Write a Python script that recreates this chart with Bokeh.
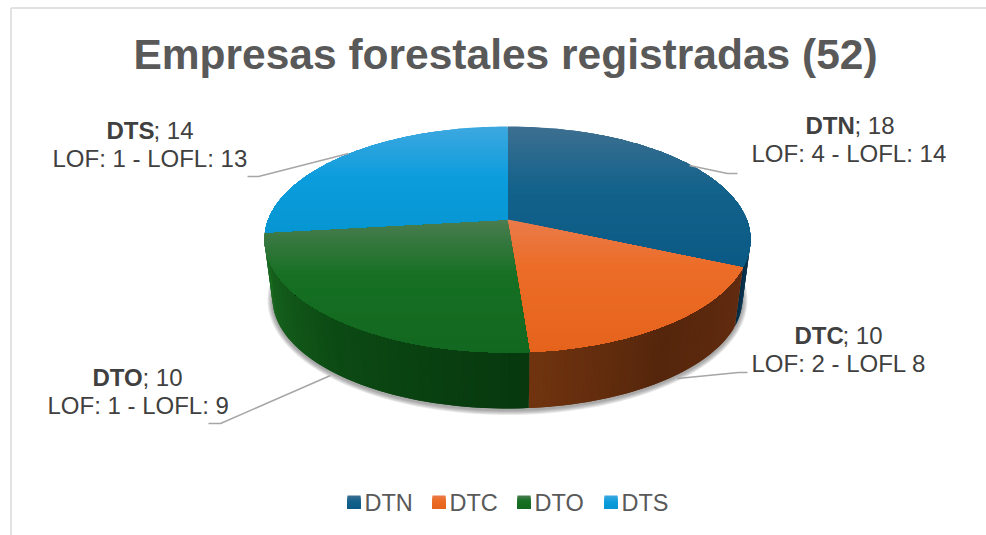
import numpy as np
from bokeh.plotting import figure
from bokeh.models import Range1d
from bokeh.core.properties import value
from bokeh.embed import file_html
from bokeh.resources import INLINE

# ---- data -----------------------------------------------------------------
categories = ["DTN", "DTC", "DTO", "DTS"]
label_totals = [18, 10, 10, 14]
label_details = ["LOF: 4 - LOFL: 14", "LOF: 2 - LOFL 8", "LOF: 1 - LOFL: 9", "LOF: 1 - LOFL: 13"]
# slice sizes as drawn in the picture (degrees of the pie's rim)
drawn_degrees = [104.4, 70.4, 98.7, 86.5]
title = "Empresas forestales registradas (52)"

# ---- styles ---------------------------------------------------------------
FONT = value("Liberation Sans")
face_stops = {
    "DTN": [(0, "#3d6f90"), (.45, "#13628b"), (1, "#0a5a85")],
    "DTC": [(0, "#ea7b4b"), (.35, "#ec6d28"), (1, "#e5631c")],
    "DTO": [(0, "#4b7d51"), (.42, "#167023"), (1, "#136820")],
    "DTS": [(0, "#3ea8e0"), (.5, "#0a9cdc"), (1, "#0796d2")],
}
wall_stops = {
    "DTN": [(0, "#0b3c5c"), (1, "#052a42")],
    "DTC": [(0, "#622c10"), (.5, "#55260c"), (1, "#71340f")],
    "DTO": [(0, "#07380e"), (.5, "#0c4a14"), (1, "#1b6c21")],
}
# top rim, bottom rim, apex (page pixels)
CX, CY, RX, RY = 507, 239, 243, 113
BX, BY, BRX, BRY = 507, 298, 235, 110
AX, AY = 507, 219


def rgb(h):
    return np.array([int(h[i:i + 2], 16) for i in (1, 3, 5)], float)


def mix(stops, f):
    fs = [s[0] for s in stops]
    cs = np.array([rgb(s[1]) for s in stops])
    v = [np.interp(f, fs, cs[:, i]) for i in range(3)]
    return "#%02x%02x%02x" % tuple(int(round(c)) for c in v)


def rim(t, cx, cy, rx, ry):
    r = np.radians(t)
    return cx + rx * np.sin(r), cy - ry * np.cos(r)


def clip(poly, y0, y1):
    def cut(pts, keep, cross):
        out = []
        for i, a in enumerate(pts):
            b = pts[(i + 1) % len(pts)]
            ka, kb = keep(a), keep(b)
            if ka:
                out.append(a)
            if ka != kb:
                out.append(cross(a, b))
        return out

    def at(y):
        return lambda a, b: (a[0] + (b[0] - a[0]) * (y - a[1]) / (b[1] - a[1]), y)

    p1 = cut(poly, lambda q: q[1] >= y0, at(y0))
    if not p1:
        return []
    return cut(p1, lambda q: q[1] <= y1, at(y1))


p = figure(width=986, height=535, output_backend="svg", toolbar_location=None,
           x_range=Range1d(0, 986), y_range=Range1d(535, 0), min_border=0)
p.axis.visible = False
p.grid.visible = False
p.outline_line_color = None
p.background_fill_color = "white"

# chart frame
p.line([10.5, 10.5], [535, 7.5], line_color="#d9d9d9", line_width=1.5)
p.line([10.5, 986], [7.5, 7.5], line_color="#d9d9d9", line_width=1.5)

# soft shadow
ts = np.linspace(0, 360, 181)
for i in range(5, 0, -1):
    p.patch(*rim(ts, BX, BY + 1.5, BRX + i, BRY + i), fill_color="#404040", fill_alpha=0.11, line_color=None)

edges = np.concatenate([[0], np.cumsum(drawn_degrees)])
edges = edges / edges[-1] * 360

# side wall: overlapping strips so that no seams show
xs, ys, cols = [], [], []
for k, name in enumerate(categories):
    if name not in wall_stops:
        continue
    a = max(edges[k], 88)
    b = min(edges[k + 1], 276)
    tt = np.arange(a, b + .01, 1.0)
    if tt[-1] < b:
        tt = np.append(tt, b)
    for t0, t1 in zip(tt[:-1], tt[1:]):
        tz = min(t1 + 1, b)
        x0, y0 = rim(t0, CX, CY, RX, RY)
        x1, y1 = rim(tz, CX, CY, RX, RY)
        x2, y2 = rim(tz, BX, BY, BRX, BRY)
        x3, y3 = rim(t0, BX, BY, BRX, BRY)
        xs.append([x0, x1, x2, x3])
        ys.append([y0, y1, y2, y3])
        cols.append(mix(wall_stops[name], (t0 - a) / max(b - a, 1)))
p.patches(xs, ys, fill_color=cols, line_color=None)

# top faces, in overlapping horizontal gradient bands
xs, ys, cols = [], [], []
for k, name in enumerate(categories):
    tt = np.linspace(edges[k], edges[k + 1], 90)
    rx_, ry_ = rim(tt, CX, CY, RX, RY)
    poly = [(AX, AY)] + list(zip(rx_, ry_))
    top = min(q[1] for q in poly)
    bot = max(q[1] for q in poly)
    y = top
    while y < bot:
        band = clip(poly, y, bot)
        if len(band) >= 3:
            xs.append([q[0] for q in band])
            ys.append([q[1] for q in band])
            cols.append(mix(face_stops[name], (y + 1 - top) / (bot - top)))
        y += 2
p.patches(xs, ys, fill_color=cols, line_color=None)

# leader lines
leaders = {
    "DTN": ([689, 727, 737], [165, 173, 173]),
    "DTC": ([677, 738, 747], [378, 372, 372]),
    "DTO": ([330, 220, 208], [375, 423, 423]),
    "DTS": ([348, 258, 247], [153, 176, 176]),
}
for name in categories:
    p.line(*leaders[name], line_color="#a6a6a6", line_width=1.5)

# title
p.text([505], [54], text=[title], text_font=FONT, text_font_size="42.5px", text_font_style="bold",
       text_color="#595959", text_align="center", text_baseline="alphabetic")

# data labels: bold name, value, detail line
label_layout = {
    "DTN": (805, 854, 125, 751, 153),
    "DTC": (794, 842, 335, 751, 363),
    "DTO": (92, 142, 377, 47, 405),
    "DTS": (106, 153, 130, 52, 158),
}
for name, tot, det in zip(categories, label_totals, label_details):
    bx, vx, y1, dx, y2 = label_layout[name]
    p.text([bx], [y1], text=[name], text_font=FONT, text_font_size="24px", text_font_style="bold",
           text_color="#404040", text_baseline="alphabetic")
    p.text([vx], [y1], text=[f"; {tot}"], text_font=FONT, text_font_size="24px",
           text_color="#404040", text_baseline="alphabetic")
    p.text([dx], [y2], text=[det], text_font=FONT, text_font_size="24px",
           text_color="#404040", text_baseline="alphabetic")

# legend
legend_x = {"DTN": 347, "DTC": 432, "DTO": 517, "DTS": 604}
for name in categories:
    x0 = legend_x[name]
    lx, ly, lc = [], [], []
    for j in range(13):
        lx.append([x0, x0 + 13, x0 + 13, x0])
        ly.append([495 + j, 495 + j, 508, 508])
        lc.append(mix(face_stops[name], (j + .5) / 13))
    p.patches(lx, ly, fill_color=lc, line_color=None)
    p.text([x0 + 17], [502], text=[name], text_font=FONT, text_font_size="23.5px",
           text_color="#595959", text_baseline="alphabetic")

open("out.html", "w").write(file_html(p, INLINE))
